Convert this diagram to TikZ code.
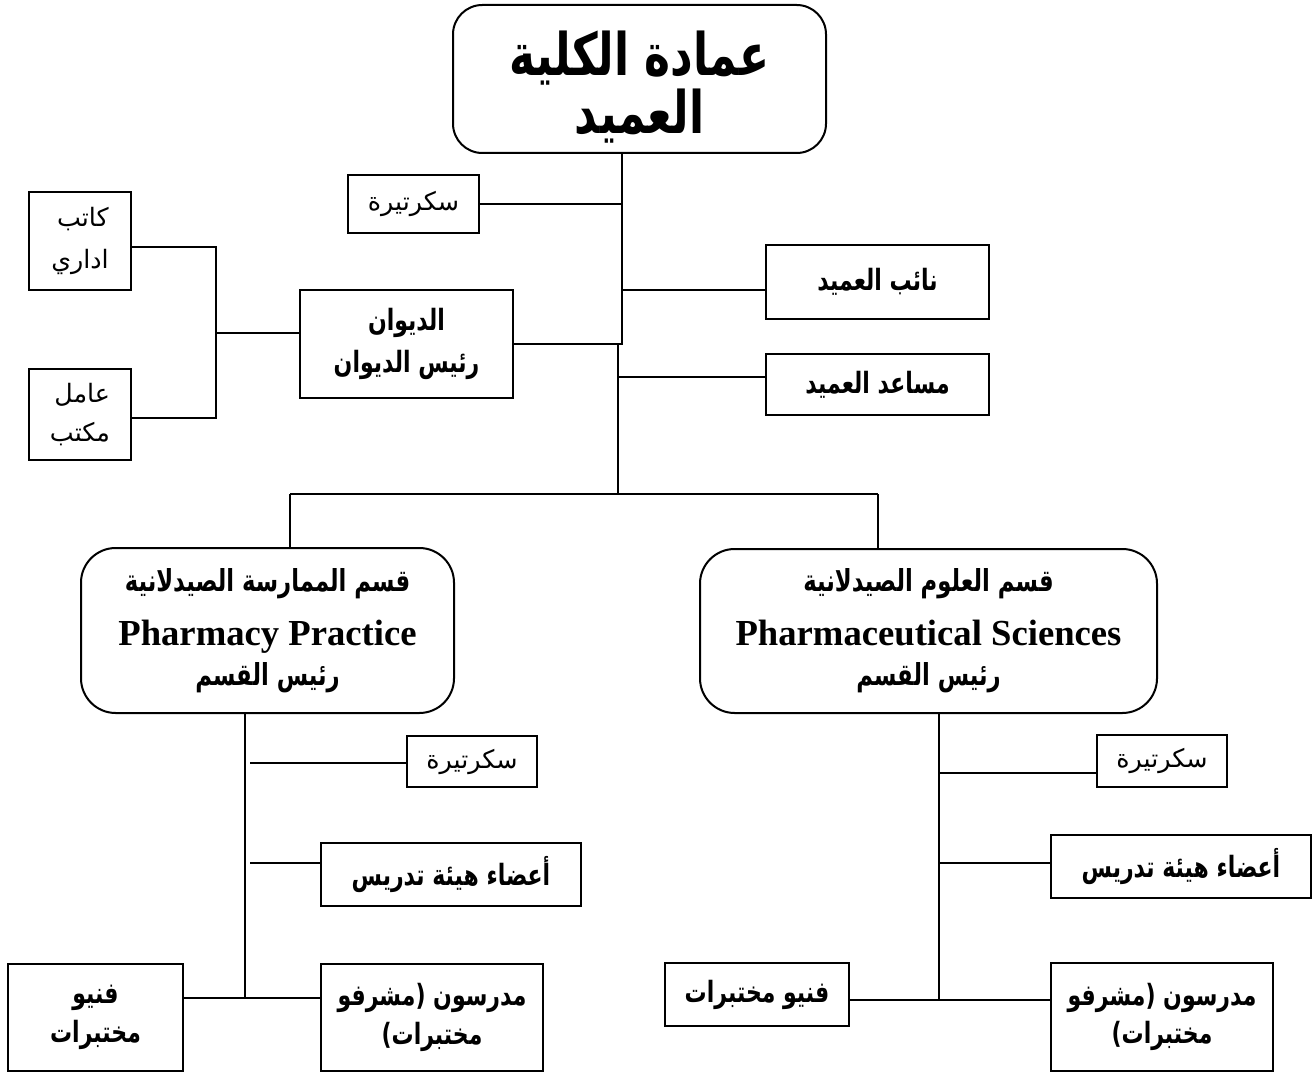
\documentclass[tikz,border=0pt]{standalone}
\usepackage{fontspec}
\TeXXeTstate=1
\newfontfamily\arfont[Script=Arabic]{DejaVu Sans}
\newfontfamily\arbfont[Script=Arabic,FakeStretch=0.75]{DejaVu Sans Bold}
\newfontfamily\enfont{Liberation Serif}
\newcommand{\AR}[1]{{\arfont\beginR #1\endR}}
\newcommand{\ARB}[1]{{\arbfont\beginR #1\endR}}
\newcommand{\EN}[1]{{\enfont\bfseries #1}}
\begin{document}
\begin{tikzpicture}[x=0.75pt,y=-0.75pt,
  conn/.style={line width=1.5pt},
  box/.style={draw,line width=1.5pt,rectangle,inner sep=0pt,align=center},
  rbox/.style={box,rounded corners=22pt},
  plain/.style={font=\fontsize{19}{30}\selectfont},
  bold/.style={font=\fontsize{22}{30}\selectfont},
  deantext/.style={yshift=-6pt,align=center,font=\fontsize{44}{44}\selectfont\arbfont},
]
\useasboundingbox (0,0) rectangle (1312,1073);
% top
\node[rbox,minimum width=373*0.75pt,minimum height=148*0.75pt,
  label={[deantext]center:\beginR عمادة الكلية\endR\\\beginR العميد\endR}] (dean) at (639.5,79) {};
\node[box,plain,minimum width=131*0.75pt,minimum height=58*0.75pt] (sec1) at (413.5,204) {\AR{سكرتيرة}};
\node[box,bold,minimum width=223*0.75pt,minimum height=74*0.75pt] (naib) at (877.5,282) {\ARB{نائب العميد}};
\node[box,bold,minimum width=223*0.75pt,minimum height=61*0.75pt] (musaed) at (877.5,384.5) {\ARB{مساعد العميد}};
\node[box,minimum width=213*0.75pt,minimum height=108*0.75pt,font=\fontsize{22}{31.5}\selectfont] (diwan) at (406.5,344) {\ARB{الديوان}\\\ARB{رئيس الديوان}};
\node[box,plain,align=right,minimum width=102*0.75pt,minimum height=98*0.75pt,font=\fontsize{19}{31.5}\selectfont] (katib) at (80,241) {\AR{كاتب}\\\AR{اداري}};
\node[box,plain,align=right,minimum width=102*0.75pt,minimum height=91*0.75pt,font=\fontsize{19}{29.5}\selectfont] (amil) at (80,414.5) {\AR{عامل}\\\AR{مكتب}};
% departments
\node[rbox,rounded corners=26pt,minimum width=373*0.75pt,minimum height=165*0.75pt,font=\fontsize{22.7}{36}\selectfont] (deptL) at (267.5,630.5)
  {\ARB{قسم الممارسة الصيدلانية}\\[4.5pt]\EN{\fontsize{27.5}{34}\selectfont Pharmacy Practice}\\[-6pt]\ARB{رئيس القسم}};
\node[rbox,rounded corners=26pt,minimum width=457*0.75pt,minimum height=164*0.75pt,font=\fontsize{22.7}{36}\selectfont] (deptR) at (928.5,631)
  {\ARB{قسم العلوم الصيدلانية}\\[4.5pt]\EN{\fontsize{27.5}{34}\selectfont Pharmaceutical Sciences}\\[-6pt]\ARB{رئيس القسم}};
% left department staff
\node[box,plain,minimum width=130*0.75pt,minimum height=51*0.75pt] (secL) at (472,761.5) {\AR{سكرتيرة}};
\node[box,bold,minimum width=260*0.75pt,minimum height=63*0.75pt] (adaaL) at (451,874.5) {\ARB{أعضاء هيئة تدريس}};
\node[box,bold,minimum width=222*0.75pt,minimum height=107*0.75pt,font=\fontsize{22}{29}\selectfont] (mudL) at (432,1017.5) {\ARB{مدرسون (مشرفو}\\\ARB{مختبرات)}};
\node[box,bold,minimum width=175*0.75pt,minimum height=107*0.75pt,font=\fontsize{22}{29}\selectfont] (fanL) at (95.5,1017.5) {\ARB{فنيو}\\\ARB{مختبرات}};
% right department staff
\node[box,plain,minimum width=130*0.75pt,minimum height=52*0.75pt] (secR) at (1162,761) {\AR{سكرتيرة}};
\node[box,bold,minimum width=260*0.75pt,minimum height=63*0.75pt] (adaaR) at (1181,866.5) {\ARB{أعضاء هيئة تدريس}};
\node[box,bold,minimum width=222*0.75pt,minimum height=108*0.75pt,font=\fontsize{22}{29}\selectfont] (mudR) at (1162,1017) {\ARB{مدرسون (مشرفو}\\\ARB{مختبرات)}};
\node[box,bold,minimum width=184*0.75pt,minimum height=63*0.75pt] (fanR) at (757,994.5) {\ARB{فنيو مختبرات}};
% junction coordinates
\coordinate (jog) at (622,344);
\coordinate (jog2) at (618,344);
\coordinate (hubL) at (290,494);
\coordinate (hubR) at (878,494);
\coordinate (adm) at (216,333);
\coordinate (spL) at (245,998);
\coordinate (spR) at (939,1000);
% connectors, top part
\draw[conn] (dean.south -| jog) -- (jog) -- (jog2) -- (jog2 |- hubL);
\draw[conn] (sec1.east) -- (sec1.east -| jog);
\draw[conn] (jog |- 0,290) -- (naib.west |- 0,290);
\draw[conn] (jog2 |- 0,377) -- (musaed.west |- 0,377);
\draw[conn] (diwan.east |- jog) -- (jog);
\draw[conn] (hubL) -- (hubR);
\draw[conn] (hubL) -- (deptL.north -| hubL);
\draw[conn] (hubR) -- (deptR.north -| hubR);
\draw[conn] (katib.east |- 0,247) -- (adm |- 0,247) -- (adm |- 0,418) -- (amil.east |- 0,418);
\draw[conn] (adm) -- (diwan.west |- adm);
% left department
\draw[conn] (deptL.south -| spL) -- (spL);
\draw[conn] (250,763) -- (secL.west |- 0,763);
\draw[conn] (250,863) -- (adaaL.west |- 0,863);
\draw[conn] (fanL.east |- spL) -- (mudL.west |- spL);
% right department
\draw[conn] (deptR.south -| spR) -- (spR);
\draw[conn] (spR |- 0,773) -- (secR.west |- 0,773);
\draw[conn] (spR |- 0,863) -- (adaaR.west |- 0,863);
\draw[conn] (fanR.east |- spR) -- (mudR.west |- spR);
\end{tikzpicture}
\end{document}
